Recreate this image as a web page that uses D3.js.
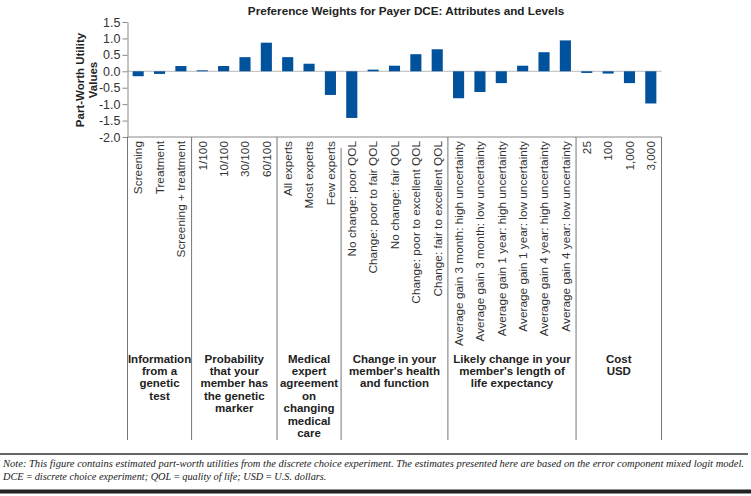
<!DOCTYPE html>
<html><head><meta charset="utf-8">
<script src="https://cdn.jsdelivr.net/npm/d3@7/dist/d3.min.js"></script>
<style>
html,body{margin:0;padding:0;background:#fff;}
svg{display:block;}
</style></head>
<body>
<script>
const categories = [
  "Screening","Treatment","Screening + treatment",
  "1/100","10/100","30/100","60/100",
  "All experts","Most experts","Few experts",
  "No change: poor QOL","Change: poor to fair QOL","No change: fair QOL","Change: poor to excellent QOL","Change: fair to excellent QOL",
  "Average gain 3 month: high uncertainty","Average gain 3 month: low uncertainty","Average gain 1 year: high uncertainty","Average gain 1 year: low uncertainty","Average gain 4 year: high uncertainty","Average gain 4 year: low uncertainty",
  "25","100","1,000","3,000"
];
const values = [
  -0.15,-0.08,0.16,
  0.03,0.16,0.43,0.87,
  0.43,0.23,-0.72,
  -1.42,0.05,0.17,0.52,0.67,
  -0.82,-0.63,-0.36,0.17,0.58,0.94,
  -0.05,-0.07,-0.36,-0.98
];
const groupSizes = [3,4,3,5,6,4];
const groupLabels = [
  ["Information","from a","genetic","test"],
  ["Probability","that your","member has","the genetic","marker"],
  ["Medical","expert","agreement","on","changing","medical","care"],
  ["Change in your","member's health","and function"],
  ["Likely change in your","member's length of","life expectancy"],
  ["Cost","USD"]
];
const yTicks = [1.5,1.0,0.5,0.0,-0.5,-1.0,-1.5,-2.0];
const chartTitle = "Preference Weights for Payer DCE: Attributes and Levels";
const yTitle = ["Part-Worth Utility","Values"];
const notes = [
  "Note: This figure contains estimated part-worth utilities from the discrete choice experiment. The estimates presented here are based on the error component mixed logit model.",
  "DCE\u2009=\u2009discrete choice experiment; QOL\u2009=\u2009quality of life; USD\u2009=\u2009U.S. dollars."
];

const W = 751, H = 496;
const mLeft = 127.5, mRight = 661.5, mTop = 22, mBottom = 137;
const svg = d3.select("body").append("svg").attr("width", W).attr("height", H);

const x = d3.scaleBand().domain(categories).range([mLeft, mRight]).paddingInner(0.48).paddingOuter(0.24);
const y = d3.scaleLinear().domain([-2, 1.5]).range([mBottom, mTop]);
const step = x.step();

// title
svg.append("text").attr("x", 406).attr("y", 15).attr("text-anchor", "middle")
  .attr("font-family", "Liberation Sans, Arial, sans-serif").attr("font-weight", "bold")
  .attr("font-size", 11.7).attr("fill", "#222").text(chartTitle);

// zero line
svg.append("line").attr("x1", mLeft).attr("x2", mRight).attr("y1", y(0)).attr("y2", y(0))
  .attr("stroke", "#c8c8c8").attr("stroke-width", 1.2);

// bars
svg.selectAll("rect.bar").data(values).enter().append("rect").attr("class","bar")
  .attr("x", (d,i) => x(categories[i]))
  .attr("width", x.bandwidth())
  .attr("y", d => y(Math.max(0,d)))
  .attr("height", d => Math.abs(y(d) - y(0)))
  .attr("fill", "#00529c");

// y axis
const yAxis = d3.axisLeft(y).tickValues(yTicks).tickFormat(d3.format(".1f")).tickSize(5).tickSizeOuter(0);
const gy = svg.append("g").attr("transform", `translate(${mLeft},0)`).call(yAxis);
gy.select(".domain").attr("stroke", "#888");
gy.selectAll(".tick line").attr("stroke", "#888");
gy.selectAll(".tick text").attr("font-family", "Liberation Sans, Arial, sans-serif")
  .attr("font-size", 12.5).attr("fill", "#333").attr("x", -7)
  .text(d => d3.format(".1f")(d).replace("\u2212","-"));

// x axis line
svg.append("line").attr("x1", mLeft).attr("x2", mRight).attr("y1", mBottom).attr("y2", mBottom)
  .attr("stroke", "#888").attr("stroke-width", 1);

// y title
const yt = svg.append("text").attr("transform", "translate(84,80) rotate(-90)")
  .attr("text-anchor", "middle").attr("font-family", "Liberation Sans, Arial, sans-serif")
  .attr("font-weight", "bold").attr("font-size", 11.5).attr("fill", "#222");
yt.selectAll("tspan").data(yTitle).enter().append("tspan")
  .attr("x", 0).attr("dy", (d,i) => i ? 13 : 0).text(d => d);

// category labels
svg.selectAll("text.cat").data(categories).enter().append("text").attr("class","cat")
  .attr("transform", d => `translate(${x(d) + x.bandwidth()/2 + 4.3},141) rotate(-90)`)
  .attr("text-anchor", "end")
  .attr("font-family", "Liberation Sans, Arial, sans-serif").attr("font-size", 11.8)
  .attr("fill", "#333").text(d => d);

// group separators and labels
let acc = 0;
const bounds = [0];
groupSizes.forEach(n => { acc += n; bounds.push(acc); });
bounds.forEach((b, i) => {
  const xb = mLeft + b * step;
  svg.append("line").attr("x1", xb).attr("x2", xb)
    .attr("y1", (i === 3) ? 148 : mBottom).attr("y2", 440)
    .attr("stroke", "#777").attr("stroke-width", 1);
});
groupLabels.forEach((lines, gi) => {
  const cx = mLeft + (bounds[gi] + bounds[gi+1]) / 2 * step;
  const t = svg.append("text").attr("x", cx).attr("y", 362.5).attr("text-anchor", "middle")
    .attr("font-family", "Liberation Sans, Arial, sans-serif").attr("font-weight", "bold")
    .attr("font-size", 11.5).attr("fill", "#222");
  t.selectAll("tspan").data(lines).enter().append("tspan")
    .attr("x", cx).attr("dy", (d,i) => i ? 12.4 : 0).text(d => d);
});

// footnote
svg.append("line").attr("x1", 0).attr("x2", 748).attr("y1", 454).attr("y2", 454)
  .attr("stroke", "#333").attr("stroke-width", 1.5);
svg.append("text").attr("x", 3).attr("y", 467).attr("font-family", "Liberation Serif, serif")
  .attr("font-style", "italic").attr("font-size", 10.3).attr("fill", "#222")
  .attr("textLength", 741).attr("lengthAdjust", "spacingAndGlyphs").text(notes[0]);
svg.append("text").attr("x", 3).attr("y", 480).attr("font-family", "Liberation Serif, serif")
  .attr("font-style", "italic").attr("font-size", 10.3).attr("fill", "#222").text(notes[1]);
svg.append("rect").attr("x", 0).attr("y", 489.5).attr("width", 751).attr("height", 4).attr("fill", "#222");
</script>
</body></html>
